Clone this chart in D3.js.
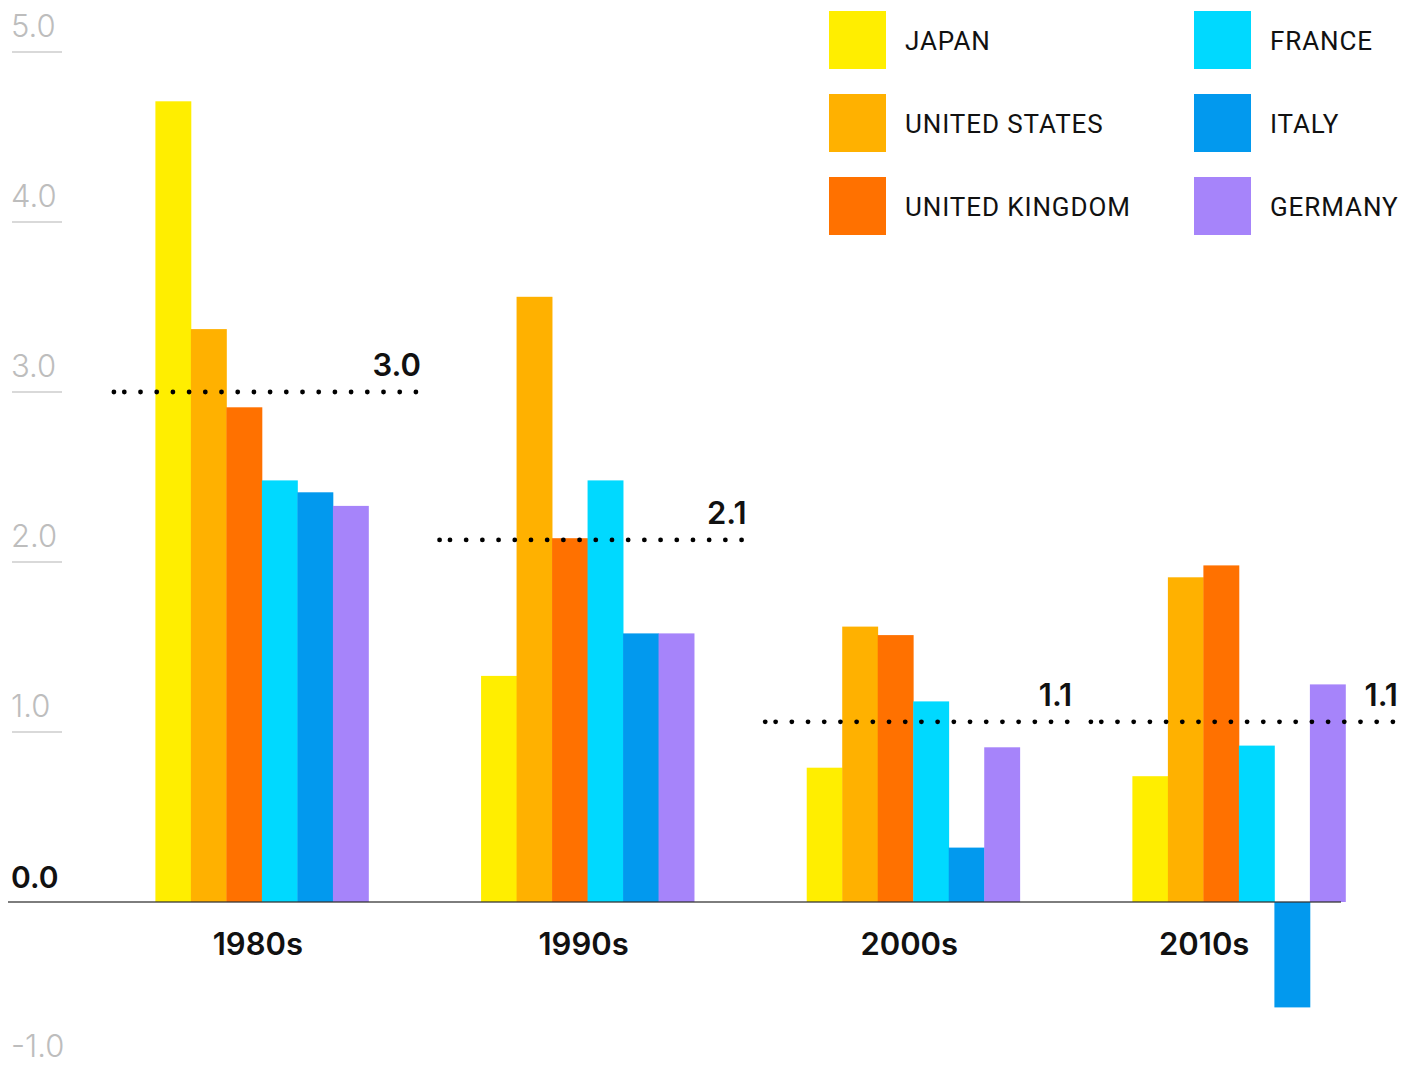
<!DOCTYPE html>
<html>
<head>
<meta charset="utf-8">
<script src="https://cdn.jsdelivr.net/npm/d3@7"></script>
<style>
  html, body { margin: 0; padding: 0; background: #fff; }
  svg { display: block; }
</style>
</head>
<body>
<svg id="chart" width="1416" height="1069"></svg>
<script>
// Decades on the x axis, one bar per country in each
const decades = ["1980s", "1990s", "2000s", "2010s"];
const countries = ["JAPAN", "UNITED STATES", "UNITED KINGDOM", "FRANCE", "ITALY", "GERMANY"];
const countryColors = ["#FFEE00", "#FFB100", "#FF7100", "#00D9FF", "#0299EE", "#A684FA"];

// Average annual growth per decade (%)
const japan        = [4.71, 1.33, 0.79, 0.74];
const unitedStates = [3.37, 3.56, 1.62, 1.91];
const unitedKingdom= [2.91, 2.14, 1.57, 1.98];
const france       = [2.48, 2.48, 1.18, 0.92];
const italy        = [2.41, 1.58, 0.32, -0.62];
const germany      = [2.33, 1.58, 0.91, 1.28];

// Decade-wide averages shown as dotted reference lines
const decadeAverages = [3.0, 2.13, 1.06, 1.06];

const yTicks = [5, 4, 3, 2, 1, 0, -1];

const series = [japan, unitedStates, unitedKingdom, france, italy, germany];

const svg = d3.select("#chart");

const y = d3.scaleLinear().domain([-1, 5]).range([1072, 52]);

const x0 = d3.scaleBand()
  .domain(decades)
  .range([155.4, 1345.4])
  .paddingInner(0.3459)
  .paddingOuter(0);

const x1 = d3.scaleBand()
  .domain(countries)
  .range([0, x0.bandwidth()]);

const color = d3.scaleOrdinal().domain(countries).range(countryColors);

const numFont = "Inter, 'Noto Sans', sans-serif";
const fmt = v => v.toFixed(1);

// y-axis tick labels with short underlines
const tickG = svg.append("g").attr("class", "y-ticks");
yTicks.forEach(t => {
  const isZero = t === 0;
  if (!isZero) {
    tickG.append("line")
      .attr("x1", 12).attr("x2", 62)
      .attr("y1", y(t)).attr("y2", y(t))
      .attr("stroke", "#cccccc")
      .attr("stroke-width", 1.4);
  }
  tickG.append("text")
    .attr("x", isZero ? 11 : 11)
    .attr("y", y(t) - (isZero ? 14 : 15))
    .attr("font-family", numFont)
    .attr("font-size", isZero ? 30 : 31)
    .attr("font-weight", isZero ? 600 : 300)
    .attr("fill", isZero ? "#111" : "#bdbdbd")
    .text(fmt(t));
});

// grouped bars
const rows = decades.map((d, i) => ({
  decade: d,
  values: countries.map((c, j) => ({ country: c, value: series[j][i] }))
}));

const groups = svg.append("g").attr("class", "bars")
  .selectAll("g")
  .data(rows)
  .join("g")
  .attr("transform", d => `translate(${x0(d.decade)},0)`);

groups.selectAll("rect")
  .data(d => d.values)
  .join("rect")
  .attr("x", d => x1(d.country))
  .attr("width", x1.bandwidth() + 0.4)
  .attr("y", d => y(Math.max(0, d.value)))
  .attr("height", d => Math.abs(y(d.value) - y(0)))
  .attr("fill", d => color(d.country));

// zero baseline
svg.append("line")
  .attr("x1", 8).attr("x2", 1341)
  .attr("y1", y(0)).attr("y2", y(0))
  .attr("stroke", "#333")
  .attr("stroke-opacity", 0.85)
  .attr("stroke-width", 1.6);

// dotted average lines, dots spaced from the right end
const avgG = svg.append("g").attr("class", "averages");
const dotStep = 16.2;
decades.forEach((d, i) => {
  const cx = x0(d) + x0.bandwidth() / 2 + 3;
  const xa = cx - 151, xb = cx + 151;
  const yy = y(decadeAverages[i]);
  const dots = d3.range(0, Math.floor((xb - xa) / dotStep) + 1).map(k => xb - k * dotStep);
  dots.push(xa);
  avgG.selectAll(null)
    .data(dots)
    .join("circle")
    .attr("cx", v => v)
    .attr("cy", yy)
    .attr("r", 2.4)
    .attr("fill", "#000");
  avgG.append("text")
    .attr("x", xb + 5)
    .attr("y", yy - 16)
    .attr("text-anchor", "end")
    .attr("font-family", numFont)
    .attr("font-size", 31)
    .attr("font-weight", 600)
    .attr("fill", "#111")
    .text(fmt(decadeAverages[i]));
});

// decade labels, nudged left when a negative bar hangs below them
const labelG = svg.append("g").attr("class", "x-labels");
rows.forEach(r => {
  const cx = x0(r.decade) + x0.bandwidth() / 2 - 4;
  const t = labelG.append("text")
    .attr("x", cx)
    .attr("y", 955)
    .attr("text-anchor", "middle")
    .attr("font-family", numFont)
    .attr("font-size", 31)
    .attr("font-weight", 600)
    .attr("fill", "#111")
    .text(r.decade);
  const box = t.node().getBBox();
  r.values.filter(v => v.value < 0).forEach(v => {
    const barLeft = x0(r.decade) + x1(v.country);
    const barRight = barLeft + x1.bandwidth();
    if (box.x + box.width > barLeft - 25 && box.x < barRight) {
      const shift = (box.x + box.width) - (barLeft - 25);
      t.attr("x", cx - shift);
    }
  });
});

// legend: two columns of three
const legend = svg.append("g").attr("class", "legend");
countries.forEach((c, i) => {
  const col = Math.floor(i / 3), row = i % 3;
  const lx = 829 + col * 365, ly = 11 + row * 83;
  legend.append("rect")
    .attr("x", lx).attr("y", ly)
    .attr("width", 57).attr("height", 58)
    .attr("fill", color(c));
  legend.append("text")
    .attr("x", lx + 76)
    .attr("y", ly + 39)
    .attr("font-family", "Roboto, 'Noto Sans', sans-serif")
    .attr("font-size", 26)
    .attr("font-weight", 400)
    .attr("letter-spacing", 0.9)
    .attr("fill", "#111")
    .text(c);
});
</script>
</body>
</html>
